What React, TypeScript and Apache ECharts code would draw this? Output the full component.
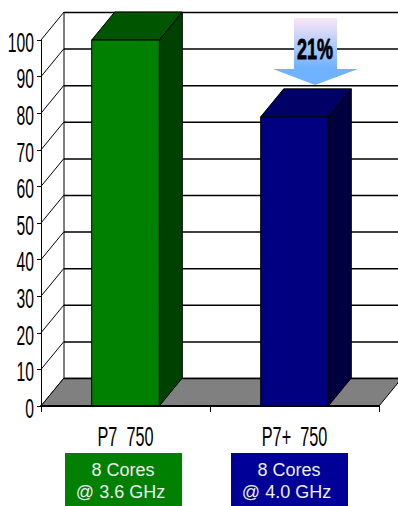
import React, { useEffect, useRef } from "react";
import * as echarts from "echarts";

// Relative performance of two processors, drawn as a pseudo-3D column chart.
const categories = ["P7  750", "P7+  750"];
const performance = [100, 79];
const tickValues = [0, 10, 20, 30, 40, 50, 60, 70, 80, 90, 100];
const coreNotes = [
  ["8 Cores", "@ 3.6 GHz"],
  ["8 Cores", "@ 4.0 GHz"],
];
const reductionLabel = "21%";

const columnFaces = [
  { front: "#008000", top: "#005500", side: "#004000" },
  { front: "#000080", top: "#000066", side: "#000040" },
];
const noteFills = ["#008000", "#000099"];

const DEPTH_X = 23;
const DEPTH_Y = 28;
const WIDTH = 398;
const HEIGHT = 506;
const CONDENSED = 0.56;
const LABEL_FONT = "Liberation Sans";

function line(x1: number, y1: number, x2: number, y2: number, lineWidth = 1) {
  return {
    type: "line",
    shape: { x1, y1, x2, y2 },
    style: { stroke: "#000", lineWidth, fill: null },
  };
}

function poly(points: number[][], fill: string, stroke: string | null = "#000") {
  return {
    type: "polygon",
    shape: { points },
    style: { fill, stroke, lineWidth: 1 },
  };
}

// Gridlines on the back wall and the receding left wall, one per tick.
function renderWall(params: any, api: any) {
  const grid = params.coordSys;
  const y = api.coord([0, api.value(0)])[1];
  const left = grid.x;
  const children: any[] = [
    line(left + DEPTH_X, y - DEPTH_Y + 0.5, WIDTH, y - DEPTH_Y + 0.5, 1.5),
    line(left, y, left + DEPTH_X, y - DEPTH_Y, 1),
  ];
  return { type: "group", children };
}

// Grey floor parallelogram and the back-left vertical edge.
function renderFloor(params: any, api: any) {
  const grid = params.coordSys;
  const bottom = grid.y + grid.height;
  const left = grid.x;
  const right = grid.x + grid.width;
  return {
    type: "group",
    children: [
      poly(
        [
          [left, bottom],
          [right, bottom],
          [right + DEPTH_X, bottom - DEPTH_Y],
          [left + DEPTH_X, bottom - DEPTH_Y],
        ],
        "#808080",
        null,
      ),
      line(left + DEPTH_X, bottom - DEPTH_Y + 0.5, WIDTH, bottom - DEPTH_Y + 0.5, 1.6),
      line(left + DEPTH_X, grid.y - DEPTH_Y, left + DEPTH_X, bottom - DEPTH_Y, 1),
      line(left, bottom, left + DEPTH_X, bottom - DEPTH_Y, 1),
      line(right, bottom, right + DEPTH_X, bottom - DEPTH_Y, 1),
    ],
  };
}

// Column with front, top and side faces.
function renderColumn(params: any, api: any) {
  const index = api.value(0);
  const [cx, yTop] = api.coord([index, api.value(1)]);
  const [, yBase] = api.coord([index, 0]);
  const half = api.size([1, 0])[0] * 0.2;
  const l = cx - half;
  const r = cx + half;
  const faces = columnFaces[index];
  return {
    type: "group",
    children: [
      poly(
        [
          [r, yTop],
          [r + DEPTH_X, yTop - DEPTH_Y],
          [r + DEPTH_X, yBase - DEPTH_Y],
          [r, yBase],
        ],
        faces.side,
      ),
      poly(
        [
          [l, yTop],
          [l + DEPTH_X, yTop - DEPTH_Y],
          [r + DEPTH_X, yTop - DEPTH_Y],
          [r, yTop],
        ],
        faces.top,
      ),
      poly(
        [
          [l, yTop],
          [r, yTop],
          [r, yBase],
          [l, yBase],
        ],
        faces.front,
      ),
    ],
  };
}

function condensedText(text: string, x: number, y: number, fontSize: number, align: string, scaleX = CONDENSED, weight = "normal") {
  return {
    type: "text",
    x,
    y,
    scaleX,
    style: {
      text,
      fontFamily: LABEL_FONT,
      fontSize,
      fontWeight: weight,
      fill: "#000",
      align,
      verticalAlign: "middle",
    },
  };
}

function renderTickLabel(params: any, api: any) {
  const y = api.coord([0, api.value(0)])[1];
  return condensedText(String(api.value(0)), params.coordSys.x - 7, y + 2, 28, "right");
}

function renderCategoryLabel(params: any, api: any) {
  const index = api.value(0);
  const [cx] = api.coord([index, 0]);
  return condensedText(categories[index], cx, 436, 28, "center", 0.58);
}

export default function App() {
  const ref = useRef<HTMLDivElement>(null);

  useEffect(() => {
    const chart = echarts.init(ref.current!, undefined, { renderer: "svg" });

    const noteBoxes = coreNotes.flatMap((lines, i) => {
      const left = i === 0 ? 65 : 231;
      return [
        {
          type: "rect",
          shape: { x: left, y: 453, width: 117, height: 53 },
          style: { fill: noteFills[i] },
        },
        ...lines.map((t, j) => ({
          type: "text",
          x: left + 58 - j * 2.5,
          y: 469.5 + j * 22,
          style: {
            text: t,
            fill: "#eeeeee",
            fontFamily: LABEL_FONT,
            fontSize: 18,
            align: "center",
            verticalAlign: "middle",
          },
        })),
      ];
    });

    const reductionText = condensedText(reductionLabel, 315, 49, 29, "center", 0.62, "bold");
    (reductionText.style as any).stroke = "#000";
    (reductionText.style as any).lineWidth = 0.8;

    chart.setOption({
      animation: false,
      backgroundColor: "#fff",
      grid: { left: 41, right: 19, top: 40, bottom: 100 },
      xAxis: {
        type: "category",
        data: categories,
        axisLine: { show: true, lineStyle: { color: "#000", width: 2 } },
        axisTick: { show: true, length: 6, lineStyle: { color: "#000" } },
        axisLabel: { show: false },
        z: 5,
      },
      yAxis: {
        type: "value",
        min: 0,
        max: 100,
        interval: 10,
        splitLine: { show: false },
        axisLine: { show: true, lineStyle: { color: "#000", width: 1 } },
        axisTick: { show: true, length: 4, lineStyle: { color: "#000" } },
        axisLabel: { show: false },
        z: 5,
      },
      series: [
        {
          type: "custom",
          renderItem: renderWall,
          data: tickValues.map((v) => [v]),
          encode: { y: 0 },
          silent: true,
          clip: false,
          z: 1,
        },
        {
          type: "custom",
          renderItem: renderFloor,
          data: [[0]],
          encode: { y: 0 },
          silent: true,
          clip: false,
          z: 2,
        },
        {
          type: "custom",
          renderItem: renderColumn,
          data: performance.map((v, i) => [i, v]),
          encode: { x: 0, y: 1 },
          silent: true,
          clip: false,
          z: 3,
        },
        {
          type: "custom",
          renderItem: renderTickLabel,
          data: tickValues.map((v) => [v]),
          encode: { y: 0 },
          silent: true,
          clip: false,
          z: 6,
        },
        {
          type: "custom",
          renderItem: renderCategoryLabel,
          data: categories.map((_, i) => [i]),
          encode: { x: 0 },
          silent: true,
          clip: false,
          z: 6,
        },
      ],
      graphic: {
        elements: [
          {
            type: "polygon",
            z: 10,
            shape: {
              points: [
                [294, 18],
                [337, 18],
                [337, 69],
                [358, 69],
                [315, 85],
                [273, 69],
                [294, 69],
              ],
            },
            style: {
              fill: new echarts.graphic.LinearGradient(0, 0, 0, 1, [
                { offset: 0, color: "#fbe6f7" },
                { offset: 0.75, color: "#6fb2ff" },
                { offset: 1, color: "#6fb2ff" },
              ]),
            },
          },
          { ...reductionText, z: 11 },
          ...noteBoxes,
        ],
      },
    });

    return () => chart.dispose();
  }, []);

  return (
    <div
      ref={ref}
      style={{ position: "absolute", left: 0, top: 0, width: WIDTH, height: HEIGHT }}
    />
  );
}
